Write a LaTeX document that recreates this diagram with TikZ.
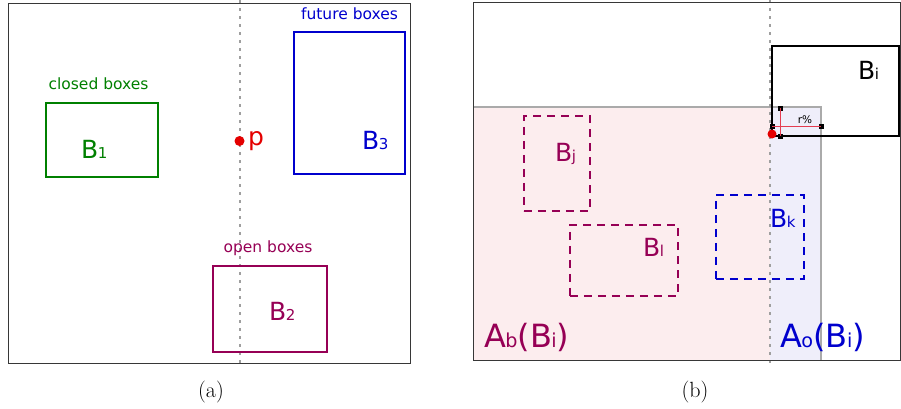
\documentclass[tikz,border=0pt]{standalone}
\usepackage{fontspec}
\newfontfamily\lblfont{DejaVu Sans}
\definecolor{boxgreen}{RGB}{0,128,0}
\definecolor{boxblue}{RGB}{0,0,205}
\definecolor{boxpurple}{RGB}{150,0,85}
\definecolor{pointred}{RGB}{228,0,0}
\definecolor{crossred}{RGB}{228,60,80}
\definecolor{behindfill}{RGB}{252,237,238}
\definecolor{overlapfill}{RGB}{239,238,250}
\definecolor{framegray}{RGB}{55,55,55}
\definecolor{edgegray}{RGB}{170,170,170}
% letter followed by a small subscript sitting on the baseline
\newcommand\withsub[2]{#1\kern-0.02em\raisebox{-0.03em}{\scalebox{0.6}{#2}}}
\tikzset{
  x=1pt, y=-1pt,
  panelframe/.style={draw=framegray, line width=1.2pt},
  sweepline/.style={draw=gray!75, line width=1.8pt, dash pattern=on 3pt off 5pt},
  solidbox/.style={draw, line width=2pt, inner sep=0pt, anchor=north west, fill=none},
  dashbox/.style={draw, line width=1.6pt, dash pattern=on 8pt off 6pt, inner sep=0pt, anchor=north west},
  grouplbl/.style={font=\lblfont\fontsize{15.5}{15.5}\selectfont, inner sep=0pt, anchor=base},
  boxlbl/.style={font=\lblfont\fontsize{25}{25}\selectfont, inner sep=0pt, anchor=base west},
  arealbl/.style={font=\lblfont\fontsize{32}{32}\selectfont, inner sep=0pt, anchor=base west},
  caption/.style={font=\fontsize{22}{22}\selectfont, inner sep=0pt, anchor=base},
  marker/.style={fill=black, minimum size=5pt, inner sep=0pt},
}
\begin{document}
\begin{tikzpicture}
\useasboundingbox (0,0) rectangle (901,408);

% ---------------- panel (a) ----------------
\coordinate (sweepAtop) at (240,0);
\coordinate (sweepAbot) at (240,367);
\draw[sweepline] (sweepAtop) -- (sweepAbot);
\node[panelframe, inner sep=0pt, anchor=north west, minimum width=402pt, minimum height=360pt] (panelA) at (8,2.5) {};

\node[solidbox, draw=boxgreen, minimum width=112pt, minimum height=74pt] (boxOne) at (45,102) {};
\node[solidbox, draw=boxblue, minimum width=111pt, minimum height=142pt] (boxThree) at (293,31) {};
\node[solidbox, draw=boxpurple, minimum width=114pt, minimum height=86pt] (boxTwo) at (212,265) {};

\node[grouplbl, text=boxgreen] (closedLbl) at (98.5,89) {closed boxes};
\node[grouplbl, text=boxblue] (futureLbl) at (349.5,19) {future boxes};
\node[grouplbl, text=boxpurple] (openLbl) at (268,252) {open boxes};

\node[boxlbl, text=boxgreen] (oneLbl) at (81,158) {\withsub{B}{1}};
\node[boxlbl, text=boxblue] (threeLbl) at (362,149) {\withsub{B}{3}};
\node[boxlbl, text=boxpurple] (twoLbl) at (269,320) {\withsub{B}{2}};

\node[circle, fill=pointred, minimum size=10pt, inner sep=0pt] (ptP) at (239.5,141) {};
\node[boxlbl, text=pointred] (pLbl) at (248,145) {p};

\node[caption] (capA) at (211,397) {(a)};

% ---------------- panel (b) ----------------
\fill[behindfill] (473,107) rectangle (770,360);
\fill[overlapfill] (770,107) rectangle (821,360);
\coordinate (areaTL) at (473,107);
\coordinate (areaTR) at (821,107);
\coordinate (areaBR) at (821,360);
\draw[edgegray, line width=1.2pt] (areaTL) -- (areaTR) -- (areaBR);

\coordinate (sweepBtop) at (770,0);
\coordinate (sweepBbot) at (770,367);
\draw[sweepline] (sweepBtop) -- (sweepBbot);

\node[panelframe, inner sep=0pt, anchor=north west, minimum width=426.5pt, minimum height=358pt] (panelB) at (473,2) {};

\node[dashbox, draw=boxpurple, minimum width=66pt, minimum height=95pt] (boxJ) at (523,115) {};
\node[dashbox, draw=boxpurple, minimum width=108pt, minimum height=71pt] (boxL) at (569,224) {};
\node[dashbox, draw=boxblue, minimum width=88pt, minimum height=84pt] (boxK) at (715,194) {};
\node[solidbox, draw=black, minimum width=127pt, minimum height=90pt] (boxI) at (771,45) {};

\node[boxlbl, text=black] (iLbl) at (858,79) {\withsub{B}{i}};
\node[boxlbl, text=boxpurple] (jLbl) at (555,161) {\withsub{B}{j}};
\node[boxlbl, text=boxpurple] (lLbl) at (643,256) {\withsub{B}{l}};
\node[boxlbl, text=boxblue] (kLbl) at (770,227) {\withsub{B}{k}};

\node[arealbl, text=boxpurple] (behindLbl) at (484,347) {\withsub{A}{b}(\withsub{B}{i})};
\node[arealbl, text=boxblue] (overlapLbl) at (780,347) {\withsub{A}{o}(\withsub{B}{i})};

% r% overlap gauge at the lower left corner of B_i
\node[marker] (gaugeW) at (772,126) {};
\node[marker] (gaugeE) at (821,126) {};
\node[marker] (gaugeN) at (780,108) {};
\node[marker] (gaugeS) at (780,136) {};
\draw[crossred, line width=1pt] (gaugeW.center) -- (gaugeE.center);
\draw[crossred, line width=1pt] (gaugeN.center) -- (gaugeS.center);
\node[font=\lblfont\fontsize{10.5}{10.5}\selectfont, inner sep=0pt] (gaugeLbl) at (805,120) {r\%};

\node[circle, fill=pointred, minimum size=9pt, inner sep=0pt] (ptB) at (772,134) {};

\node[caption] (capB) at (695,397) {(b)};
\end{tikzpicture}
\end{document}
